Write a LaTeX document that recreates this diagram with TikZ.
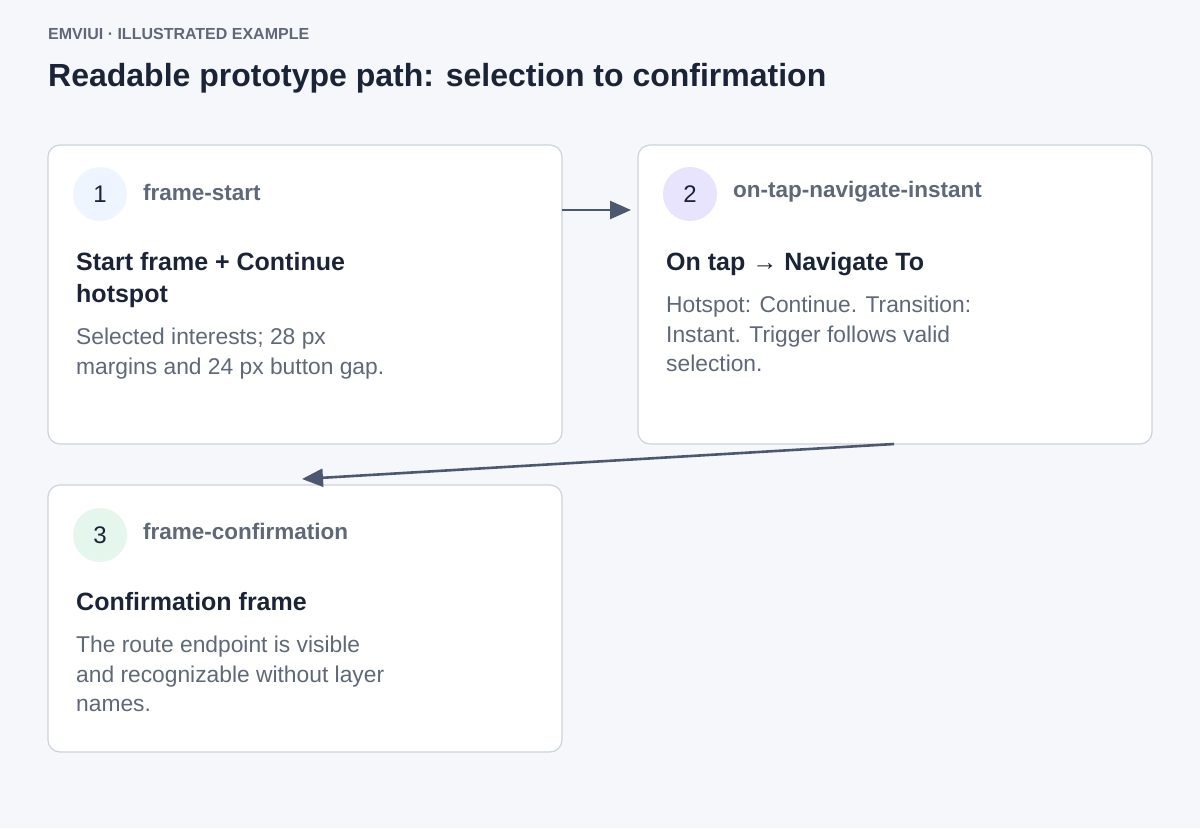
\documentclass[tikz,border=0pt]{standalone}
\usepackage{fontspec}
\setmainfont{Liberation Sans}
\usetikzlibrary{positioning,arrows.meta}
\definecolor{bgcol}{HTML}{F5F7FA}
\definecolor{edgecol}{HTML}{CDD3DC}
\definecolor{inkcol}{HTML}{1B2437}
\definecolor{mutedcol}{HTML}{5F6878}
\definecolor{arrowcol}{HTML}{4B5870}
\definecolor{blueFill}{HTML}{EFF5FE}
\definecolor{violetFill}{HTML}{E9E4FD}
\definecolor{greenFill}{HTML}{E5F6EC}
\tikzset{
  card/.style={draw=edgecol, line width=1.2pt, fill=white, rounded corners=12pt},
  badge/.style={circle, minimum size=54pt, inner sep=0pt, font=\fontsize{24}{28}\selectfont, text=inkcol},
  tag/.style={anchor=west, inner sep=0pt, font=\bfseries\fontsize{22.5}{26}\selectfont, text=mutedcol},
  heading/.style={anchor=north west, inner sep=0pt, align=left, font=\bfseries\fontsize{25}{32}\selectfont, text=inkcol},
  body/.style={anchor=north west, inner sep=0pt, align=left, font=\fontsize{22.8}{29.5}\selectfont, text=mutedcol},
  flow/.style={draw=arrowcol, line width=2.6pt, -{Triangle[length=21pt,width=18pt]}},
}
\begin{document}
\begin{tikzpicture}[x=1pt,y=-1pt]
  \fill[bgcol] (0,0) rectangle (1200,828);
  \useasboundingbox (0,0) rectangle (1200,828);

  % header
  \node[anchor=west, inner sep=0pt, text=mutedcol, font=\bfseries\fontsize{16}{18}\selectfont] (kicker) at (48,34) {EMVIUI · ILLUSTRATED EXAMPLE};
  \node[anchor=west, inner sep=0pt, text=inkcol, font=\bfseries\fontsize{32}{36}\selectfont] (title) at (48,78) {Readable prototype path: selection to confirmation};

  % cards
  \draw[card] (48,145) rectangle (562,444);
  \draw[card] (638,145) rectangle (1152,444);
  \draw[card] (48,485) rectangle (562,752);

  % card 1
  \node[badge, fill=blueFill] (one) at (100,194) {1};
  \node[tag] (oneTag) at (143,192) {frame-start};
  \node[heading] (oneHead) at (76,252) {Start frame + Continue\\hotspot};
  \node[body] (oneBody) at (76,328) {Selected interests; 28 px\\margins and 24 px button gap.};

  % card 2
  \node[badge, fill=violetFill] (two) at (690,194) {2};
  \node[tag] (twoTag) at (733,192) {on-tap-navigate-instant};
  \node[heading] (twoHead) at (666,252) {On tap → Navigate To};
  \node[body] (twoBody) at (666,296) {Hotspot: Continue. Transition:\\Instant. Trigger follows valid\\selection.};

  % card 3
  \node[badge, fill=greenFill] (three) at (100,535) {3};
  \node[tag] (threeTag) at (143,531) {frame-confirmation};
  \node[heading] (threeHead) at (76,592) {Confirmation frame};
  \node[body] (threeBody) at (76,636) {The route endpoint is visible\\and recognizable without layer\\names.};

  % connectors
  \coordinate (aOut) at (562,210);
  \coordinate (aIn) at (631,210);
  \coordinate (bOut) at (894,444);
  \coordinate (bIn) at (302,479);
  \draw[flow] (aOut) -- (aIn);
  \draw[flow] (bOut) -- (bIn);
\end{tikzpicture}
\end{document}
